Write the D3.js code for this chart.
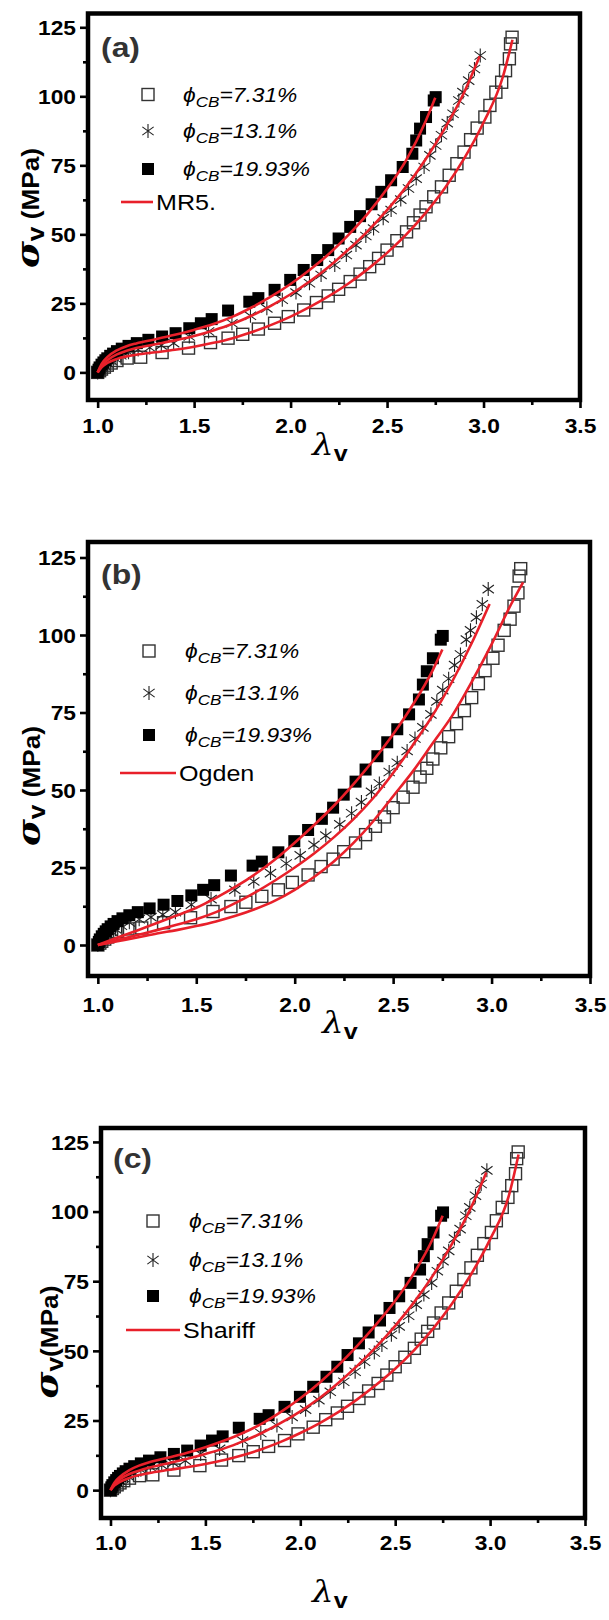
<!DOCTYPE html>
<html>
<head>
<meta charset="utf-8">
<script src="https://cdn.jsdelivr.net/npm/d3@7"></script>
<style>
  body { margin: 0; background: #fff; }
  svg { display: block; }
  text { font-family: "Liberation Sans", Arial, sans-serif; }
</style>
</head>
<body>
<div id="chart"></div>
<script>
// ---- experimental data (same three samples in every panel) ----
var lamOpen = [1.0, 1.01, 1.02, 1.035, 1.05, 1.07, 1.1, 1.153, 1.223, 1.334, 1.471, 1.585, 1.676, 1.752, 1.833, 1.917, 1.988, 2.068, 2.134, 2.195, 2.249, 2.309, 2.36, 2.41, 2.456, 2.5, 2.551, 2.601, 2.637, 2.671, 2.702, 2.742, 2.782, 2.822, 2.862, 2.899, 2.933, 2.967, 3.007, 3.033, 3.064, 3.094, 3.114, 3.134, 3.14, 3.148];
var sigOpen = [0, 0.6, 1.2, 1.9, 2.6, 3.4, 4.3, 5.2, 5.5, 7.2, 8.8, 10.8, 12.4, 13.8, 15.7, 17.8, 20.2, 22.6, 25.3, 27.7, 30.1, 32.9, 35.6, 38.3, 41.3, 44.3, 47.7, 50.9, 54.2, 57.0, 60.0, 63.6, 67.2, 71.4, 75.6, 79.8, 84.3, 88.5, 92.5, 96.7, 101.5, 105.1, 109.3, 113.6, 119.0, 121.4];

var lamStar = [1.0, 1.01, 1.02, 1.035, 1.05, 1.07, 1.09, 1.12, 1.16, 1.21, 1.27, 1.33, 1.394, 1.475, 1.575, 1.696, 1.792, 1.877, 1.957, 2.028, 2.098, 2.158, 2.229, 2.289, 2.339, 2.39, 2.43, 2.48, 2.521, 2.571, 2.611, 2.651, 2.692, 2.722, 2.752, 2.782, 2.812, 2.842, 2.872, 2.893, 2.923, 2.953, 2.983];
var sigStar = [0, 0.8, 1.6, 2.5, 3.3, 4.3, 5.1, 6.2, 7.3, 8.3, 9.0, 9.8, 10.6, 13.0, 14.8, 17.8, 20.5, 23.2, 26.3, 28.9, 32.3, 35.3, 38.9, 42.5, 46.1, 49.4, 52.1, 55.8, 58.8, 62.6, 66.6, 70.2, 74.4, 78.6, 82.2, 85.9, 90.3, 93.7, 98.5, 101.5, 105.7, 109.9, 114.8];

var lamFilled = [1.0, 1.005, 1.01, 1.02, 1.03, 1.04, 1.05, 1.065, 1.08, 1.1, 1.125, 1.16, 1.203, 1.263, 1.334, 1.404, 1.475, 1.535, 1.591, 1.676, 1.786, 1.833, 1.917, 1.998, 2.068, 2.138, 2.195, 2.249, 2.309, 2.36, 2.42, 2.47, 2.521, 2.581, 2.631, 2.651, 2.671, 2.702, 2.742, 2.752];
var sigFilled = [0, 1.0, 1.8, 2.8, 3.6, 4.4, 5.1, 6.0, 6.8, 7.7, 8.6, 9.6, 10.6, 11.8, 13.0, 14.2, 16.0, 17.8, 19.3, 22.4, 25.6, 26.9, 29.9, 33.5, 37.1, 40.7, 44.3, 48.5, 52.7, 56.6, 60.9, 65.4, 69.6, 74.4, 79.2, 84.0, 88.3, 92.5, 98.5, 99.7];

// ---- model fits ----
// (a) MR5
var mr5LamTop = [1.0, 1.02, 1.05, 1.1, 1.15, 1.2, 1.3, 1.4, 1.5, 1.6, 1.7, 1.8, 1.9, 2.0, 2.1, 2.2, 2.3, 2.4, 2.5, 2.6, 2.7, 2.75];
var mr5SigTop = [0, 3.0, 5.5, 8.0, 9.5, 10.5, 12.0, 13.6, 15.4, 17.5, 20.2, 23.6, 27.5, 32.0, 37.2, 43.0, 49.8, 57.5, 66.5, 77.0, 91.0, 99.5];
var mr5LamMid = [1.0, 1.02, 1.05, 1.1, 1.15, 1.2, 1.3, 1.4, 1.5, 1.6, 1.7, 1.8, 1.9, 2.0, 2.1, 2.2, 2.3, 2.4, 2.5, 2.6, 2.7, 2.8, 2.9, 2.98];
var mr5SigMid = [0, 2.4, 4.4, 6.5, 7.8, 8.8, 10.2, 11.6, 13.2, 15.2, 17.6, 20.6, 24.2, 28.3, 33.0, 38.4, 44.5, 51.2, 58.8, 67.3, 77.2, 88.5, 101.5, 114.5];
var mr5LamBot = [1.0, 1.02, 1.05, 1.1, 1.15, 1.2, 1.3, 1.4, 1.5, 1.6, 1.7, 1.8, 1.9, 2.0, 2.1, 2.2, 2.3, 2.4, 2.5, 2.6, 2.7, 2.8, 2.9, 3.0, 3.1, 3.15];
var mr5SigBot = [0, 1.8, 3.4, 4.9, 5.8, 6.4, 7.3, 8.2, 9.3, 10.7, 12.4, 14.6, 17.2, 20.2, 23.7, 27.7, 32.2, 37.4, 43.3, 50.0, 57.8, 66.8, 77.5, 90.5, 107.0, 120.5];

// (b) Ogden
var ogLamTop = [1.0, 1.1, 1.2, 1.3, 1.4, 1.5, 1.6, 1.7, 1.8, 1.9, 2.0, 2.1, 2.2, 2.3, 2.4, 2.5, 2.6, 2.7, 2.75];
var ogSigTop = [0, 2.4, 4.7, 7.1, 9.5, 12.0, 15.2, 18.8, 22.9, 27.6, 33.0, 38.8, 45.0, 52.0, 59.6, 68.0, 77.5, 88.5, 95.3];
var ogLamMid = [1.0, 1.1, 1.2, 1.3, 1.4, 1.5, 1.6, 1.7, 1.8, 1.9, 2.0, 2.1, 2.2, 2.3, 2.4, 2.5, 2.6, 2.7, 2.8, 2.9, 2.99];
var ogSigMid = [0, 1.6, 3.2, 4.8, 6.5, 8.3, 10.6, 13.6, 17.0, 20.8, 25.0, 29.6, 34.8, 40.7, 47.5, 55.5, 64.5, 74.0, 85.0, 97.5, 110.0];
var ogLamBot = [1.0, 1.1, 1.2, 1.3, 1.4, 1.5, 1.6, 1.7, 1.8, 1.9, 2.0, 2.1, 2.2, 2.3, 2.4, 2.5, 2.6, 2.7, 2.8, 2.9, 3.0, 3.1, 3.16];
var ogSigBot = [0, 1.2, 2.4, 3.7, 4.8, 6.1, 7.6, 9.4, 11.6, 14.3, 17.8, 22.0, 27.0, 33.0, 40.0, 48.0, 56.0, 65.0, 74.0, 85.0, 97.0, 110.0, 117.0];

// (c) Shariff
var shLamTop = [1.0, 1.02, 1.05, 1.1, 1.15, 1.2, 1.3, 1.4, 1.5, 1.6, 1.7, 1.8, 1.9, 2.0, 2.1, 2.2, 2.3, 2.4, 2.5, 2.6, 2.7, 2.75];
var shSigTop = [0, 2.6, 4.8, 7.2, 8.8, 9.9, 11.6, 13.3, 15.4, 17.8, 20.6, 24.0, 28.2, 33.0, 38.5, 44.8, 51.8, 59.5, 68.0, 78.0, 90.5, 98.5];
var shLamMid = [1.0, 1.02, 1.05, 1.1, 1.15, 1.2, 1.3, 1.4, 1.5, 1.6, 1.7, 1.8, 1.9, 2.0, 2.1, 2.2, 2.3, 2.4, 2.5, 2.6, 2.7, 2.8, 2.9, 2.98];
var shSigMid = [0, 2.0, 3.9, 5.8, 7.0, 8.0, 9.6, 11.2, 13.0, 15.0, 17.6, 20.6, 24.2, 28.3, 33.0, 38.5, 44.6, 51.4, 59.0, 67.5, 77.2, 88.5, 101.5, 114.0];
var shLamBot = [1.0, 1.02, 1.05, 1.1, 1.15, 1.2, 1.3, 1.4, 1.5, 1.6, 1.7, 1.8, 1.9, 2.0, 2.1, 2.2, 2.3, 2.4, 2.5, 2.6, 2.7, 2.8, 2.9, 3.0, 3.1, 3.15];
var shSigBot = [0, 1.6, 3.0, 4.4, 5.4, 6.1, 7.2, 8.2, 9.4, 10.8, 12.6, 14.8, 17.4, 20.5, 24.0, 28.0, 32.6, 37.8, 43.6, 50.3, 58.0, 67.0, 77.5, 90.0, 106.0, 120.5];

// ---- axis ticks and legend labels ----
var xMajor = [1.0, 1.5, 2.0, 2.5, 3.0, 3.5];
var xMinor = [1.25, 1.75, 2.25, 2.75, 3.25];
var yMajor = [0, 25, 50, 75, 100, 125];
var yMinor = [12.5, 37.5, 62.5, 87.5, 112.5];
var seriesValues = ["7.31%", "13.1%", "19.93%"];
var panelTags = ["(a)", "(b)", "(c)"];
var modelNames = ["MR5.", "Ogden", "Shariff"];

var W = 609, H = 1620;
var red = "#e8202a";
var SX = 1.14; // text in the source figure is a little wider than Arial

var svg = d3.select("#chart").append("svg")
    .attr("width", W)
    .attr("height", H);

var panels = [
    { left: 88, right: 580, top: 13.5, bottom: 400, xPad: 11, tagX: 101, tagY: 57,
      legX: 148, legY: [94.5, 131, 169, 202], lineX: [121, 153], textX: 183,
      ylab: [39, 208, true], xlab: [312, 455],
      fits: [[mr5LamBot, mr5SigBot], [mr5LamMid, mr5SigMid], [mr5LamTop, mr5SigTop]] },
    { left: 88, right: 590, top: 542, bottom: 976, xPad: 14, tagX: 101, tagY: 584,
      legX: 149, legY: [651, 693, 735, 773], lineX: [120, 176], textX: 185,
      ylab: [40, 786, true], xlab: [322, 1033],
      fits: [[ogLamBot, ogSigBot], [ogLamMid, ogSigMid], [ogLamTop, ogSigTop]] },
    { left: 101, right: 585, top: 1128, bottom: 1518, xPad: 10, tagX: 113, tagY: 1168,
      legX: 153, legY: [1221, 1260, 1296, 1330], lineX: [126, 180], textX: 189,
      ylab: [58, 1342, false], xlab: [312, 1602],
      fits: [[shLamBot, shSigBot], [shLamMid, shSigMid], [shLamTop, shSigTop]] }
];

function asteriskPath(r) {
    var dx = r * Math.cos(Math.PI / 5), dy = r * Math.sin(Math.PI / 5);
    return "M0," + (-r) + "V" + r +
        "M" + (-dx) + "," + (-dy) + "L" + dx + "," + dy +
        "M" + (-dx) + "," + dy + "L" + dx + "," + (-dy);
}

function drawMarker(g, kind, x, y) {
    if (kind === 0) {
        g.append("rect").attr("x", x - 6).attr("y", y - 6)
            .attr("width", 12).attr("height", 12)
            .attr("fill", "none").attr("stroke", "#333").attr("stroke-width", 1.4);
    } else if (kind === 1) {
        g.append("path").attr("transform", "translate(" + x + "," + y + ")")
            .attr("d", asteriskPath(7))
            .attr("fill", "none").attr("stroke", "#222").attr("stroke-width", 1.1);
    } else {
        g.append("rect").attr("x", x - 6).attr("y", y - 6)
            .attr("width", 12).attr("height", 12)
            .attr("fill", "#000");
    }
}

panels.forEach(function(p, i) {
    var x = d3.scaleLinear().domain([0.95, 3.5]).range([p.left, p.right]);
    var y = d3.scaleLinear().domain([-10, 130]).range([p.bottom, p.top]);
    var g = svg.append("g");

    // axes (ticks point outward, frame drawn separately)
    var xAxis = g.append("g").attr("transform", "translate(0," + p.bottom + ")")
        .call(d3.axisBottom(x).tickValues(xMajor).tickFormat(d3.format(".1f"))
            .tickSize(8).tickPadding(p.xPad).tickSizeOuter(0));
    var xAxisMinor = g.append("g").attr("transform", "translate(0," + p.bottom + ")")
        .call(d3.axisBottom(x).tickValues(xMinor).tickFormat("").tickSize(5).tickSizeOuter(0));
    var yAxis = g.append("g").attr("transform", "translate(" + p.left + ",0)")
        .call(d3.axisLeft(y).tickValues(yMajor).tickSize(8).tickPadding(4).tickSizeOuter(0));
    var yAxisMinor = g.append("g").attr("transform", "translate(" + p.left + ",0)")
        .call(d3.axisLeft(y).tickValues(yMinor).tickFormat("").tickSize(5).tickSizeOuter(0));

    [xAxis, xAxisMinor, yAxis, yAxisMinor].forEach(function(a) {
        a.select(".domain").remove();
        a.selectAll("line").attr("stroke", "#000").attr("stroke-width", 2.6);
        a.selectAll("text")
            .attr("fill", "#000")
            .style("font-size", "20px")
            .style("font-weight", "bold")
            .attr("transform", "scale(" + SX + ",1)");
    });
    xAxis.selectAll("text").attr("dy", "0.72em");
    yAxis.selectAll("text").attr("x", -12 / SX).attr("dy", "0.36em");

    // experimental points
    var dots = g.append("g");
    d3.zip(lamOpen, sigOpen).forEach(function(d) { drawMarker(dots, 0, x(d[0]), y(d[1])); });
    d3.zip(lamStar, sigStar).forEach(function(d) { drawMarker(dots, 1, x(d[0]), y(d[1])); });
    d3.zip(lamFilled, sigFilled).forEach(function(d) { drawMarker(dots, 2, x(d[0]), y(d[1])); });

    // model fits
    var line = d3.line()
        .x(function(d) { return x(d[0]); })
        .y(function(d) { return y(d[1]); })
        .curve(d3.curveMonotoneX);
    p.fits.forEach(function(f) {
        g.append("path")
            .datum(d3.zip(f[0], f[1]))
            .attr("d", line)
            .attr("fill", "none")
            .attr("stroke", red)
            .attr("stroke-width", 2.6);
    });

    // frame
    g.append("rect")
        .attr("x", p.left).attr("y", p.top)
        .attr("width", p.right - p.left).attr("height", p.bottom - p.top)
        .attr("fill", "none").attr("stroke", "#000").attr("stroke-width", 4.5);

    // panel tag
    g.append("text")
        .attr("transform", "translate(" + p.tagX + "," + p.tagY + ") scale(" + SX + ",1)")
        .attr("fill", "#333")
        .style("font-size", "28px").style("font-weight", "bold")
        .text(panelTags[i]);

    // legend
    for (var k = 0; k < 3; k++) {
        drawMarker(g, k, p.legX, p.legY[k]);
        var t = g.append("text")
            .attr("transform", "translate(" + p.textX + "," + (p.legY[k] + 7) + ") scale(" + SX + ",1)")
            .style("font-size", "20px").style("font-style", "italic")
            .attr("fill", "#000");
        t.append("tspan").text("\u03D5");
        t.append("tspan").attr("dy", 5).style("font-size", "15px").text("CB");
        t.append("tspan").attr("dy", -5).text("=" + seriesValues[k]);
    }
    g.append("line")
        .attr("x1", p.lineX[0]).attr("x2", p.lineX[1])
        .attr("y1", p.legY[3]).attr("y2", p.legY[3])
        .attr("stroke", red).attr("stroke-width", 2.6);
    g.append("text")
        .attr("transform", "translate(" + (p.lineX[1] + 3) + "," + (p.legY[3] + 8) + ") scale(" + SX + ",1)")
        .style("font-size", "22px")
        .attr("fill", "#000")
        .text(modelNames[i]);

    // y axis title
    var yl = g.append("text")
        .attr("transform", "translate(" + p.ylab[0] + "," + p.ylab[1] + ") rotate(-90) scale(" + SX + ",1)")
        .attr("text-anchor", "middle")
        .attr("fill", "#000");
    yl.append("tspan").style("font-family", "'DejaVu Serif', serif").style("font-style", "italic")
        .style("font-weight", "bold").style("font-size", "32px").text("\u03C3");
    yl.append("tspan").attr("dy", 5).style("font-weight", "bold").style("font-size", "23px").text("v");
    yl.append("tspan").attr("dy", -5).style("font-weight", "bold").style("font-size", "23px")
        .text(p.ylab[2] ? " (MPa)" : "(MPa)");

    // x axis title
    var xl = g.append("text")
        .attr("transform", "translate(" + p.xlab[0] + "," + p.xlab[1] + ") scale(" + SX + ",1)")
        .attr("fill", "#000");
    xl.append("tspan").style("font-family", "'DejaVu Serif', serif").style("font-style", "italic")
        .style("font-size", "30px").text("\u03BB");
    xl.append("tspan").attr("dy", 6).style("font-weight", "bold").style("font-size", "22px").text("v");
});
</script>
</body>
</html>
